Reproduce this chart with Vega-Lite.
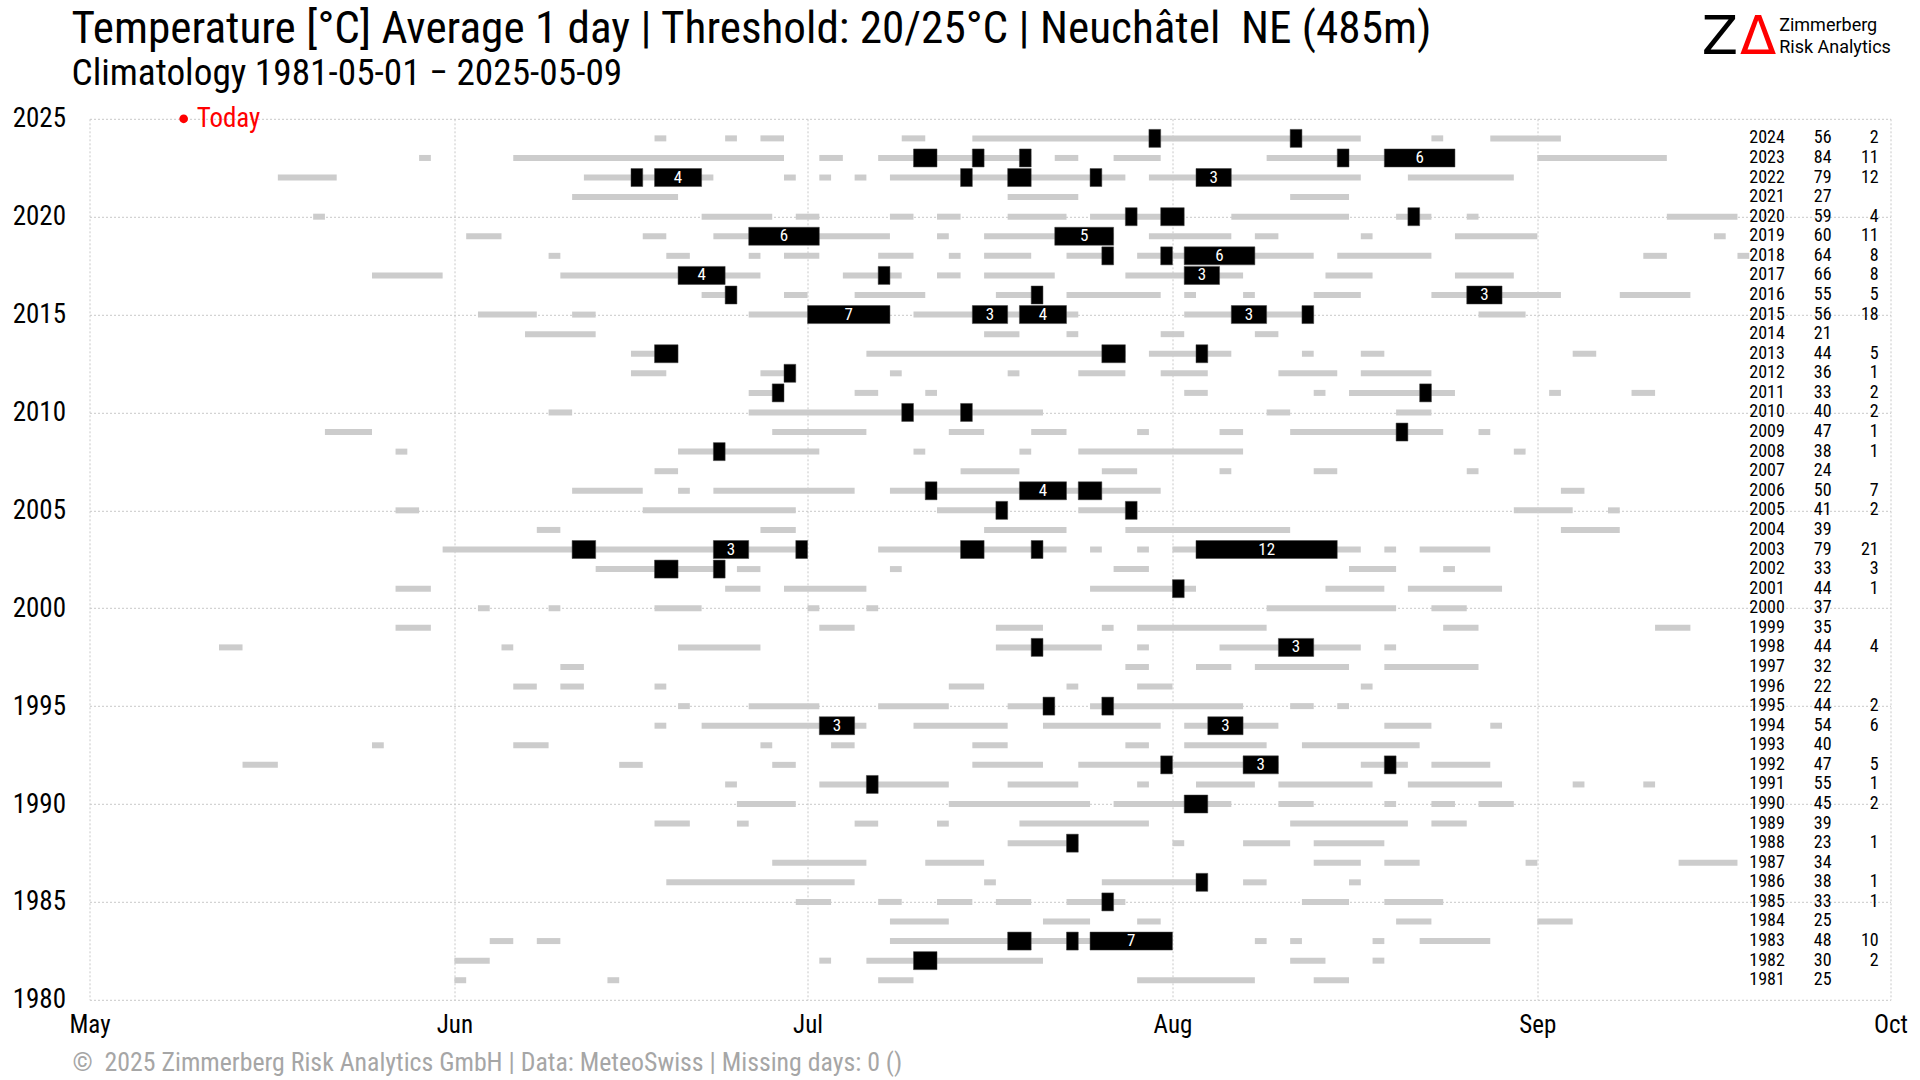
{
  "$schema": "https://vega.github.io/schema/vega-lite/v6.json",
  "width": 1801,
  "height": 881,
  "autosize": {"type": "none"},
  "padding": {"left": 89.5, "top": 118.8, "right": 29.5, "bottom": 80.2},
  "background": "white",
  "title": {
    "text": "Temperature [°C] Average 1 day | Threshold: 20/25°C | Neuchâtel\u00a0 NE (485m)",
    "subtitle": "Climatology 1981-05-01 − 2025-05-09",
    "anchor": "start",
    "frame": "group",
    "dx": -18,
    "dy": 83,
    "fontSize": 45.2,
    "subtitleFontSize": 37.3,
    "fontWeight": "normal",
    "color": "#000000",
    "subtitleColor": "#000000",
    "offset": 3,
    "subtitlePadding": 3
  },
  "config": {
    "font": "Roboto Condensed, Liberation Sans Narrow, DejaVu Sans Condensed, Roboto, sans-serif",
    "view": {"stroke": null},
    "scale": {"continuousPadding": 0},
    "axis": {
      "domain": false,
      "ticks": false,
      "gridColor": "#c8c8c8",
      "gridDash": [2, 2],
      "gridWidth": 1,
      "labelColor": "#000000",
      "labelFontSize": 25,
      "labelFlush": false,
      "labelOverlap": false
    }
  },
  "datasets": {
    "gray": [
      {"year":2024,"start":"2024-06-18","end":"2024-06-19"},
      {"year":2024,"start":"2024-06-24","end":"2024-06-25"},
      {"year":2024,"start":"2024-06-27","end":"2024-06-29"},
      {"year":2024,"start":"2024-07-09","end":"2024-07-11"},
      {"year":2024,"start":"2024-07-15","end":"2024-08-17"},
      {"year":2024,"start":"2024-08-23","end":"2024-08-24"},
      {"year":2024,"start":"2024-08-28","end":"2024-09-03"},
      {"year":2023,"start":"2023-05-29","end":"2023-05-30"},
      {"year":2023,"start":"2023-06-06","end":"2023-06-29"},
      {"year":2023,"start":"2023-07-02","end":"2023-07-04"},
      {"year":2023,"start":"2023-07-07","end":"2023-07-20"},
      {"year":2023,"start":"2023-07-22","end":"2023-07-24"},
      {"year":2023,"start":"2023-07-27","end":"2023-07-31"},
      {"year":2023,"start":"2023-08-09","end":"2023-08-25"},
      {"year":2023,"start":"2023-09-01","end":"2023-09-12"},
      {"year":2022,"start":"2022-05-17","end":"2022-05-22"},
      {"year":2022,"start":"2022-06-12","end":"2022-06-23"},
      {"year":2022,"start":"2022-06-29","end":"2022-06-30"},
      {"year":2022,"start":"2022-07-02","end":"2022-07-03"},
      {"year":2022,"start":"2022-07-05","end":"2022-07-06"},
      {"year":2022,"start":"2022-07-08","end":"2022-07-28"},
      {"year":2022,"start":"2022-07-30","end":"2022-08-17"},
      {"year":2022,"start":"2022-08-21","end":"2022-08-30"},
      {"year":2021,"start":"2021-06-11","end":"2021-06-20"},
      {"year":2021,"start":"2021-07-18","end":"2021-07-24"},
      {"year":2021,"start":"2021-08-11","end":"2021-08-16"},
      {"year":2020,"start":"2020-05-20","end":"2020-05-21"},
      {"year":2020,"start":"2020-06-22","end":"2020-06-28"},
      {"year":2020,"start":"2020-06-30","end":"2020-07-02"},
      {"year":2020,"start":"2020-07-08","end":"2020-07-10"},
      {"year":2020,"start":"2020-07-12","end":"2020-07-14"},
      {"year":2020,"start":"2020-07-18","end":"2020-07-23"},
      {"year":2020,"start":"2020-07-25","end":"2020-08-02"},
      {"year":2020,"start":"2020-08-06","end":"2020-08-16"},
      {"year":2020,"start":"2020-08-20","end":"2020-08-23"},
      {"year":2020,"start":"2020-08-26","end":"2020-08-27"},
      {"year":2020,"start":"2020-09-12","end":"2020-09-18"},
      {"year":2019,"start":"2019-06-02","end":"2019-06-05"},
      {"year":2019,"start":"2019-06-17","end":"2019-06-19"},
      {"year":2019,"start":"2019-06-23","end":"2019-07-08"},
      {"year":2019,"start":"2019-07-12","end":"2019-07-13"},
      {"year":2019,"start":"2019-07-16","end":"2019-07-27"},
      {"year":2019,"start":"2019-07-30","end":"2019-08-06"},
      {"year":2019,"start":"2019-08-08","end":"2019-08-10"},
      {"year":2019,"start":"2019-08-17","end":"2019-08-18"},
      {"year":2019,"start":"2019-08-25","end":"2019-09-01"},
      {"year":2019,"start":"2019-09-16","end":"2019-09-17"},
      {"year":2018,"start":"2018-06-09","end":"2018-06-10"},
      {"year":2018,"start":"2018-06-19","end":"2018-06-21"},
      {"year":2018,"start":"2018-06-26","end":"2018-06-27"},
      {"year":2018,"start":"2018-06-29","end":"2018-07-02"},
      {"year":2018,"start":"2018-07-07","end":"2018-07-10"},
      {"year":2018,"start":"2018-07-13","end":"2018-07-14"},
      {"year":2018,"start":"2018-07-16","end":"2018-07-20"},
      {"year":2018,"start":"2018-07-23","end":"2018-07-27"},
      {"year":2018,"start":"2018-07-29","end":"2018-08-13"},
      {"year":2018,"start":"2018-08-15","end":"2018-08-23"},
      {"year":2018,"start":"2018-09-10","end":"2018-09-12"},
      {"year":2018,"start":"2018-09-18","end":"2018-09-19"},
      {"year":2017,"start":"2017-05-25","end":"2017-05-31"},
      {"year":2017,"start":"2017-06-10","end":"2017-06-27"},
      {"year":2017,"start":"2017-07-04","end":"2017-07-09"},
      {"year":2017,"start":"2017-07-12","end":"2017-07-14"},
      {"year":2017,"start":"2017-07-16","end":"2017-07-22"},
      {"year":2017,"start":"2017-07-28","end":"2017-08-07"},
      {"year":2017,"start":"2017-08-14","end":"2017-08-18"},
      {"year":2017,"start":"2017-08-25","end":"2017-08-30"},
      {"year":2016,"start":"2016-06-22","end":"2016-06-25"},
      {"year":2016,"start":"2016-06-29","end":"2016-07-01"},
      {"year":2016,"start":"2016-07-05","end":"2016-07-11"},
      {"year":2016,"start":"2016-07-17","end":"2016-07-21"},
      {"year":2016,"start":"2016-07-23","end":"2016-07-31"},
      {"year":2016,"start":"2016-08-02","end":"2016-08-03"},
      {"year":2016,"start":"2016-08-07","end":"2016-08-08"},
      {"year":2016,"start":"2016-08-13","end":"2016-08-17"},
      {"year":2016,"start":"2016-08-23","end":"2016-09-03"},
      {"year":2016,"start":"2016-09-08","end":"2016-09-14"},
      {"year":2015,"start":"2015-06-03","end":"2015-06-08"},
      {"year":2015,"start":"2015-06-11","end":"2015-06-13"},
      {"year":2015,"start":"2015-06-26","end":"2015-07-08"},
      {"year":2015,"start":"2015-07-10","end":"2015-07-24"},
      {"year":2015,"start":"2015-08-02","end":"2015-08-13"},
      {"year":2015,"start":"2015-08-27","end":"2015-08-31"},
      {"year":2014,"start":"2014-06-07","end":"2014-06-13"},
      {"year":2014,"start":"2014-07-16","end":"2014-07-19"},
      {"year":2014,"start":"2014-07-23","end":"2014-07-24"},
      {"year":2014,"start":"2014-07-31","end":"2014-08-02"},
      {"year":2014,"start":"2014-08-08","end":"2014-08-10"},
      {"year":2013,"start":"2013-06-16","end":"2013-06-20"},
      {"year":2013,"start":"2013-07-06","end":"2013-07-28"},
      {"year":2013,"start":"2013-07-30","end":"2013-08-06"},
      {"year":2013,"start":"2013-08-12","end":"2013-08-13"},
      {"year":2013,"start":"2013-08-17","end":"2013-08-19"},
      {"year":2013,"start":"2013-09-04","end":"2013-09-06"},
      {"year":2012,"start":"2012-06-16","end":"2012-06-19"},
      {"year":2012,"start":"2012-06-27","end":"2012-06-30"},
      {"year":2012,"start":"2012-07-08","end":"2012-07-09"},
      {"year":2012,"start":"2012-07-18","end":"2012-07-19"},
      {"year":2012,"start":"2012-07-24","end":"2012-07-28"},
      {"year":2012,"start":"2012-07-31","end":"2012-08-04"},
      {"year":2012,"start":"2012-08-10","end":"2012-08-15"},
      {"year":2012,"start":"2012-08-17","end":"2012-08-23"},
      {"year":2011,"start":"2011-06-26","end":"2011-06-29"},
      {"year":2011,"start":"2011-07-05","end":"2011-07-07"},
      {"year":2011,"start":"2011-07-11","end":"2011-07-12"},
      {"year":2011,"start":"2011-08-02","end":"2011-08-04"},
      {"year":2011,"start":"2011-08-13","end":"2011-08-14"},
      {"year":2011,"start":"2011-08-16","end":"2011-08-25"},
      {"year":2011,"start":"2011-09-02","end":"2011-09-03"},
      {"year":2011,"start":"2011-09-09","end":"2011-09-11"},
      {"year":2010,"start":"2010-06-09","end":"2010-06-11"},
      {"year":2010,"start":"2010-06-26","end":"2010-07-21"},
      {"year":2010,"start":"2010-08-09","end":"2010-08-11"},
      {"year":2010,"start":"2010-08-20","end":"2010-08-23"},
      {"year":2009,"start":"2009-05-21","end":"2009-05-25"},
      {"year":2009,"start":"2009-06-28","end":"2009-07-06"},
      {"year":2009,"start":"2009-07-13","end":"2009-07-16"},
      {"year":2009,"start":"2009-07-20","end":"2009-07-23"},
      {"year":2009,"start":"2009-07-29","end":"2009-07-30"},
      {"year":2009,"start":"2009-08-05","end":"2009-08-07"},
      {"year":2009,"start":"2009-08-11","end":"2009-08-24"},
      {"year":2009,"start":"2009-08-27","end":"2009-08-28"},
      {"year":2008,"start":"2008-05-27","end":"2008-05-28"},
      {"year":2008,"start":"2008-06-20","end":"2008-07-02"},
      {"year":2008,"start":"2008-07-10","end":"2008-07-11"},
      {"year":2008,"start":"2008-07-19","end":"2008-07-20"},
      {"year":2008,"start":"2008-07-24","end":"2008-08-07"},
      {"year":2008,"start":"2008-08-30","end":"2008-08-31"},
      {"year":2007,"start":"2007-06-18","end":"2007-06-20"},
      {"year":2007,"start":"2007-07-14","end":"2007-07-19"},
      {"year":2007,"start":"2007-07-26","end":"2007-07-29"},
      {"year":2007,"start":"2007-08-05","end":"2007-08-06"},
      {"year":2007,"start":"2007-08-13","end":"2007-08-15"},
      {"year":2007,"start":"2007-08-26","end":"2007-08-27"},
      {"year":2006,"start":"2006-06-11","end":"2006-06-17"},
      {"year":2006,"start":"2006-06-20","end":"2006-06-21"},
      {"year":2006,"start":"2006-06-23","end":"2006-07-05"},
      {"year":2006,"start":"2006-07-08","end":"2006-07-31"},
      {"year":2006,"start":"2006-09-03","end":"2006-09-05"},
      {"year":2005,"start":"2005-05-27","end":"2005-05-29"},
      {"year":2005,"start":"2005-06-17","end":"2005-06-30"},
      {"year":2005,"start":"2005-07-12","end":"2005-07-18"},
      {"year":2005,"start":"2005-07-24","end":"2005-07-29"},
      {"year":2005,"start":"2005-08-30","end":"2005-09-04"},
      {"year":2005,"start":"2005-09-07","end":"2005-09-08"},
      {"year":2004,"start":"2004-06-08","end":"2004-06-10"},
      {"year":2004,"start":"2004-06-27","end":"2004-06-30"},
      {"year":2004,"start":"2004-07-16","end":"2004-07-23"},
      {"year":2004,"start":"2004-07-28","end":"2004-08-11"},
      {"year":2004,"start":"2004-09-03","end":"2004-09-08"},
      {"year":2003,"start":"2003-05-31","end":"2003-07-01"},
      {"year":2003,"start":"2003-07-07","end":"2003-07-23"},
      {"year":2003,"start":"2003-07-25","end":"2003-07-26"},
      {"year":2003,"start":"2003-07-29","end":"2003-07-30"},
      {"year":2003,"start":"2003-08-01","end":"2003-08-17"},
      {"year":2003,"start":"2003-08-19","end":"2003-08-20"},
      {"year":2003,"start":"2003-08-22","end":"2003-08-28"},
      {"year":2002,"start":"2002-06-13","end":"2002-06-24"},
      {"year":2002,"start":"2002-06-25","end":"2002-06-27"},
      {"year":2002,"start":"2002-07-08","end":"2002-07-09"},
      {"year":2002,"start":"2002-07-27","end":"2002-07-30"},
      {"year":2002,"start":"2002-08-16","end":"2002-08-20"},
      {"year":2002,"start":"2002-08-24","end":"2002-08-25"},
      {"year":2001,"start":"2001-05-27","end":"2001-05-30"},
      {"year":2001,"start":"2001-06-24","end":"2001-06-27"},
      {"year":2001,"start":"2001-06-29","end":"2001-07-06"},
      {"year":2001,"start":"2001-07-25","end":"2001-08-03"},
      {"year":2001,"start":"2001-08-14","end":"2001-08-19"},
      {"year":2001,"start":"2001-08-21","end":"2001-08-29"},
      {"year":2000,"start":"2000-06-03","end":"2000-06-04"},
      {"year":2000,"start":"2000-06-09","end":"2000-06-10"},
      {"year":2000,"start":"2000-06-18","end":"2000-06-22"},
      {"year":2000,"start":"2000-07-01","end":"2000-07-02"},
      {"year":2000,"start":"2000-07-06","end":"2000-07-07"},
      {"year":2000,"start":"2000-08-09","end":"2000-08-20"},
      {"year":2000,"start":"2000-08-23","end":"2000-08-26"},
      {"year":1999,"start":"1999-05-27","end":"1999-05-30"},
      {"year":1999,"start":"1999-07-02","end":"1999-07-05"},
      {"year":1999,"start":"1999-07-17","end":"1999-07-21"},
      {"year":1999,"start":"1999-07-26","end":"1999-07-27"},
      {"year":1999,"start":"1999-07-29","end":"1999-08-09"},
      {"year":1999,"start":"1999-08-24","end":"1999-08-27"},
      {"year":1999,"start":"1999-09-11","end":"1999-09-14"},
      {"year":1998,"start":"1998-05-12","end":"1998-05-14"},
      {"year":1998,"start":"1998-06-05","end":"1998-06-06"},
      {"year":1998,"start":"1998-06-20","end":"1998-06-27"},
      {"year":1998,"start":"1998-07-17","end":"1998-07-26"},
      {"year":1998,"start":"1998-07-29","end":"1998-07-30"},
      {"year":1998,"start":"1998-08-05","end":"1998-08-17"},
      {"year":1998,"start":"1998-08-19","end":"1998-08-20"},
      {"year":1997,"start":"1997-06-10","end":"1997-06-12"},
      {"year":1997,"start":"1997-07-28","end":"1997-07-30"},
      {"year":1997,"start":"1997-08-03","end":"1997-08-06"},
      {"year":1997,"start":"1997-08-08","end":"1997-08-16"},
      {"year":1997,"start":"1997-08-19","end":"1997-08-27"},
      {"year":1996,"start":"1996-06-06","end":"1996-06-08"},
      {"year":1996,"start":"1996-06-10","end":"1996-06-12"},
      {"year":1996,"start":"1996-06-18","end":"1996-06-19"},
      {"year":1996,"start":"1996-07-13","end":"1996-07-16"},
      {"year":1996,"start":"1996-07-23","end":"1996-07-24"},
      {"year":1996,"start":"1996-07-29","end":"1996-08-01"},
      {"year":1996,"start":"1996-08-17","end":"1996-08-18"},
      {"year":1995,"start":"1995-06-20","end":"1995-06-21"},
      {"year":1995,"start":"1995-06-26","end":"1995-07-02"},
      {"year":1995,"start":"1995-07-07","end":"1995-07-13"},
      {"year":1995,"start":"1995-07-18","end":"1995-07-22"},
      {"year":1995,"start":"1995-07-25","end":"1995-08-07"},
      {"year":1995,"start":"1995-08-11","end":"1995-08-13"},
      {"year":1995,"start":"1995-08-15","end":"1995-08-16"},
      {"year":1994,"start":"1994-06-18","end":"1994-06-19"},
      {"year":1994,"start":"1994-06-22","end":"1994-07-06"},
      {"year":1994,"start":"1994-07-10","end":"1994-07-18"},
      {"year":1994,"start":"1994-07-21","end":"1994-07-31"},
      {"year":1994,"start":"1994-08-02","end":"1994-08-10"},
      {"year":1994,"start":"1994-08-19","end":"1994-08-23"},
      {"year":1994,"start":"1994-08-28","end":"1994-08-29"},
      {"year":1993,"start":"1993-05-25","end":"1993-05-26"},
      {"year":1993,"start":"1993-06-06","end":"1993-06-09"},
      {"year":1993,"start":"1993-06-27","end":"1993-06-28"},
      {"year":1993,"start":"1993-07-03","end":"1993-07-05"},
      {"year":1993,"start":"1993-07-15","end":"1993-07-18"},
      {"year":1993,"start":"1993-07-28","end":"1993-07-30"},
      {"year":1993,"start":"1993-08-02","end":"1993-08-09"},
      {"year":1993,"start":"1993-08-12","end":"1993-08-22"},
      {"year":1992,"start":"1992-05-14","end":"1992-05-17"},
      {"year":1992,"start":"1992-06-15","end":"1992-06-17"},
      {"year":1992,"start":"1992-06-28","end":"1992-06-30"},
      {"year":1992,"start":"1992-07-15","end":"1992-07-21"},
      {"year":1992,"start":"1992-07-24","end":"1992-08-10"},
      {"year":1992,"start":"1992-08-17","end":"1992-08-21"},
      {"year":1992,"start":"1992-08-23","end":"1992-08-28"},
      {"year":1991,"start":"1991-06-24","end":"1991-06-25"},
      {"year":1991,"start":"1991-07-02","end":"1991-07-13"},
      {"year":1991,"start":"1991-07-18","end":"1991-07-24"},
      {"year":1991,"start":"1991-07-29","end":"1991-07-30"},
      {"year":1991,"start":"1991-08-03","end":"1991-08-08"},
      {"year":1991,"start":"1991-08-10","end":"1991-08-18"},
      {"year":1991,"start":"1991-08-21","end":"1991-08-29"},
      {"year":1991,"start":"1991-09-04","end":"1991-09-05"},
      {"year":1991,"start":"1991-09-10","end":"1991-09-11"},
      {"year":1990,"start":"1990-06-25","end":"1990-06-30"},
      {"year":1990,"start":"1990-07-13","end":"1990-07-25"},
      {"year":1990,"start":"1990-07-27","end":"1990-08-06"},
      {"year":1990,"start":"1990-08-10","end":"1990-08-13"},
      {"year":1990,"start":"1990-08-19","end":"1990-08-20"},
      {"year":1990,"start":"1990-08-23","end":"1990-08-25"},
      {"year":1990,"start":"1990-08-27","end":"1990-08-30"},
      {"year":1989,"start":"1989-06-18","end":"1989-06-21"},
      {"year":1989,"start":"1989-06-25","end":"1989-06-26"},
      {"year":1989,"start":"1989-07-05","end":"1989-07-07"},
      {"year":1989,"start":"1989-07-12","end":"1989-07-13"},
      {"year":1989,"start":"1989-07-19","end":"1989-07-30"},
      {"year":1989,"start":"1989-08-11","end":"1989-08-21"},
      {"year":1989,"start":"1989-08-23","end":"1989-08-26"},
      {"year":1988,"start":"1988-07-18","end":"1988-07-24"},
      {"year":1988,"start":"1988-08-01","end":"1988-08-02"},
      {"year":1988,"start":"1988-08-07","end":"1988-08-11"},
      {"year":1988,"start":"1988-08-13","end":"1988-08-19"},
      {"year":1987,"start":"1987-06-28","end":"1987-07-06"},
      {"year":1987,"start":"1987-07-11","end":"1987-07-16"},
      {"year":1987,"start":"1987-08-13","end":"1987-08-17"},
      {"year":1987,"start":"1987-08-19","end":"1987-08-22"},
      {"year":1987,"start":"1987-08-31","end":"1987-09-01"},
      {"year":1987,"start":"1987-09-13","end":"1987-09-18"},
      {"year":1986,"start":"1986-06-19","end":"1986-07-05"},
      {"year":1986,"start":"1986-07-16","end":"1986-07-17"},
      {"year":1986,"start":"1986-07-26","end":"1986-08-04"},
      {"year":1986,"start":"1986-08-07","end":"1986-08-09"},
      {"year":1986,"start":"1986-08-16","end":"1986-08-17"},
      {"year":1985,"start":"1985-06-30","end":"1985-07-03"},
      {"year":1985,"start":"1985-07-07","end":"1985-07-09"},
      {"year":1985,"start":"1985-07-12","end":"1985-07-15"},
      {"year":1985,"start":"1985-07-17","end":"1985-07-20"},
      {"year":1985,"start":"1985-07-23","end":"1985-07-28"},
      {"year":1985,"start":"1985-08-12","end":"1985-08-16"},
      {"year":1985,"start":"1985-08-19","end":"1985-08-24"},
      {"year":1984,"start":"1984-07-08","end":"1984-07-13"},
      {"year":1984,"start":"1984-07-21","end":"1984-07-25"},
      {"year":1984,"start":"1984-07-29","end":"1984-07-31"},
      {"year":1984,"start":"1984-08-20","end":"1984-08-23"},
      {"year":1984,"start":"1984-09-01","end":"1984-09-04"},
      {"year":1983,"start":"1983-06-04","end":"1983-06-06"},
      {"year":1983,"start":"1983-06-08","end":"1983-06-10"},
      {"year":1983,"start":"1983-07-08","end":"1983-08-01"},
      {"year":1983,"start":"1983-08-08","end":"1983-08-09"},
      {"year":1983,"start":"1983-08-11","end":"1983-08-12"},
      {"year":1983,"start":"1983-08-18","end":"1983-08-19"},
      {"year":1983,"start":"1983-08-22","end":"1983-08-28"},
      {"year":1982,"start":"1982-06-01","end":"1982-06-04"},
      {"year":1982,"start":"1982-07-02","end":"1982-07-03"},
      {"year":1982,"start":"1982-07-06","end":"1982-07-21"},
      {"year":1982,"start":"1982-08-11","end":"1982-08-14"},
      {"year":1982,"start":"1982-08-18","end":"1982-08-19"},
      {"year":1981,"start":"1981-06-01","end":"1981-06-02"},
      {"year":1981,"start":"1981-06-14","end":"1981-06-15"},
      {"year":1981,"start":"1981-07-07","end":"1981-07-10"},
      {"year":1981,"start":"1981-07-29","end":"1981-08-08"},
      {"year":1981,"start":"1981-08-13","end":"1981-08-16"}
    ],
    "black": [
      {"year":2024,"start":"2024-07-30","end":"2024-07-31","days":1},
      {"year":2024,"start":"2024-08-11","end":"2024-08-12","days":1},
      {"year":2023,"start":"2023-07-10","end":"2023-07-12","days":2},
      {"year":2023,"start":"2023-07-15","end":"2023-07-16","days":1},
      {"year":2023,"start":"2023-07-19","end":"2023-07-20","days":1},
      {"year":2023,"start":"2023-08-15","end":"2023-08-16","days":1},
      {"year":2023,"start":"2023-08-19","end":"2023-08-25","days":6},
      {"year":2022,"start":"2022-06-16","end":"2022-06-17","days":1},
      {"year":2022,"start":"2022-06-18","end":"2022-06-22","days":4},
      {"year":2022,"start":"2022-07-14","end":"2022-07-15","days":1},
      {"year":2022,"start":"2022-07-18","end":"2022-07-20","days":2},
      {"year":2022,"start":"2022-07-25","end":"2022-07-26","days":1},
      {"year":2022,"start":"2022-08-03","end":"2022-08-06","days":3},
      {"year":2020,"start":"2020-07-28","end":"2020-07-29","days":1},
      {"year":2020,"start":"2020-07-31","end":"2020-08-02","days":2},
      {"year":2020,"start":"2020-08-21","end":"2020-08-22","days":1},
      {"year":2019,"start":"2019-06-26","end":"2019-07-02","days":6},
      {"year":2019,"start":"2019-07-22","end":"2019-07-27","days":5},
      {"year":2018,"start":"2018-07-26","end":"2018-07-27","days":1},
      {"year":2018,"start":"2018-07-31","end":"2018-08-01","days":1},
      {"year":2018,"start":"2018-08-02","end":"2018-08-08","days":6},
      {"year":2017,"start":"2017-06-20","end":"2017-06-24","days":4},
      {"year":2017,"start":"2017-07-07","end":"2017-07-08","days":1},
      {"year":2017,"start":"2017-08-02","end":"2017-08-05","days":3},
      {"year":2016,"start":"2016-06-24","end":"2016-06-25","days":1},
      {"year":2016,"start":"2016-07-20","end":"2016-07-21","days":1},
      {"year":2016,"start":"2016-08-26","end":"2016-08-29","days":3},
      {"year":2015,"start":"2015-07-01","end":"2015-07-08","days":7},
      {"year":2015,"start":"2015-07-15","end":"2015-07-18","days":3},
      {"year":2015,"start":"2015-07-19","end":"2015-07-23","days":4},
      {"year":2015,"start":"2015-08-06","end":"2015-08-09","days":3},
      {"year":2015,"start":"2015-08-12","end":"2015-08-13","days":1},
      {"year":2013,"start":"2013-06-18","end":"2013-06-20","days":2},
      {"year":2013,"start":"2013-07-26","end":"2013-07-28","days":2},
      {"year":2013,"start":"2013-08-03","end":"2013-08-04","days":1},
      {"year":2012,"start":"2012-06-29","end":"2012-06-30","days":1},
      {"year":2011,"start":"2011-06-28","end":"2011-06-29","days":1},
      {"year":2011,"start":"2011-08-22","end":"2011-08-23","days":1},
      {"year":2010,"start":"2010-07-09","end":"2010-07-10","days":1},
      {"year":2010,"start":"2010-07-14","end":"2010-07-15","days":1},
      {"year":2009,"start":"2009-08-20","end":"2009-08-21","days":1},
      {"year":2008,"start":"2008-06-23","end":"2008-06-24","days":1},
      {"year":2006,"start":"2006-07-11","end":"2006-07-12","days":1},
      {"year":2006,"start":"2006-07-19","end":"2006-07-23","days":4},
      {"year":2006,"start":"2006-07-24","end":"2006-07-26","days":2},
      {"year":2005,"start":"2005-07-17","end":"2005-07-18","days":1},
      {"year":2005,"start":"2005-07-28","end":"2005-07-29","days":1},
      {"year":2003,"start":"2003-06-11","end":"2003-06-13","days":2},
      {"year":2003,"start":"2003-06-23","end":"2003-06-26","days":3},
      {"year":2003,"start":"2003-06-30","end":"2003-07-01","days":1},
      {"year":2003,"start":"2003-07-14","end":"2003-07-16","days":2},
      {"year":2003,"start":"2003-07-20","end":"2003-07-21","days":1},
      {"year":2003,"start":"2003-08-03","end":"2003-08-15","days":12},
      {"year":2002,"start":"2002-06-18","end":"2002-06-20","days":2},
      {"year":2002,"start":"2002-06-23","end":"2002-06-24","days":1},
      {"year":2001,"start":"2001-08-01","end":"2001-08-02","days":1},
      {"year":1998,"start":"1998-07-20","end":"1998-07-21","days":1},
      {"year":1998,"start":"1998-08-10","end":"1998-08-13","days":3},
      {"year":1995,"start":"1995-07-21","end":"1995-07-22","days":1},
      {"year":1995,"start":"1995-07-26","end":"1995-07-27","days":1},
      {"year":1994,"start":"1994-07-02","end":"1994-07-05","days":3},
      {"year":1994,"start":"1994-08-04","end":"1994-08-07","days":3},
      {"year":1992,"start":"1992-07-31","end":"1992-08-01","days":1},
      {"year":1992,"start":"1992-08-07","end":"1992-08-10","days":3},
      {"year":1992,"start":"1992-08-19","end":"1992-08-20","days":1},
      {"year":1991,"start":"1991-07-06","end":"1991-07-07","days":1},
      {"year":1990,"start":"1990-08-02","end":"1990-08-04","days":2},
      {"year":1988,"start":"1988-07-23","end":"1988-07-24","days":1},
      {"year":1986,"start":"1986-08-03","end":"1986-08-04","days":1},
      {"year":1985,"start":"1985-07-26","end":"1985-07-27","days":1},
      {"year":1983,"start":"1983-07-18","end":"1983-07-20","days":2},
      {"year":1983,"start":"1983-07-23","end":"1983-07-24","days":1},
      {"year":1983,"start":"1983-07-25","end":"1983-08-01","days":7},
      {"year":1982,"start":"1982-07-10","end":"1982-07-12","days":2}
    ],
    "counts": [
      {"year":2024,"n20":56,"n25":2},{"year":2023,"n20":84,"n25":11},{"year":2022,"n20":79,"n25":12},
      {"year":2021,"n20":27,"n25":null},{"year":2020,"n20":59,"n25":4},{"year":2019,"n20":60,"n25":11},
      {"year":2018,"n20":64,"n25":8},{"year":2017,"n20":66,"n25":8},{"year":2016,"n20":55,"n25":5},
      {"year":2015,"n20":56,"n25":18},{"year":2014,"n20":21,"n25":null},{"year":2013,"n20":44,"n25":5},
      {"year":2012,"n20":36,"n25":1},{"year":2011,"n20":33,"n25":2},{"year":2010,"n20":40,"n25":2},
      {"year":2009,"n20":47,"n25":1},{"year":2008,"n20":38,"n25":1},{"year":2007,"n20":24,"n25":null},
      {"year":2006,"n20":50,"n25":7},{"year":2005,"n20":41,"n25":2},{"year":2004,"n20":39,"n25":null},
      {"year":2003,"n20":79,"n25":21},{"year":2002,"n20":33,"n25":3},{"year":2001,"n20":44,"n25":1},
      {"year":2000,"n20":37,"n25":null},{"year":1999,"n20":35,"n25":null},{"year":1998,"n20":44,"n25":4},
      {"year":1997,"n20":32,"n25":null},{"year":1996,"n20":22,"n25":null},{"year":1995,"n20":44,"n25":2},
      {"year":1994,"n20":54,"n25":6},{"year":1993,"n20":40,"n25":null},{"year":1992,"n20":47,"n25":5},
      {"year":1991,"n20":55,"n25":1},{"year":1990,"n20":45,"n25":2},{"year":1989,"n20":39,"n25":null},
      {"year":1988,"n20":23,"n25":1},{"year":1987,"n20":34,"n25":null},{"year":1986,"n20":38,"n25":1},
      {"year":1985,"n20":33,"n25":1},{"year":1984,"n20":25,"n25":null},{"year":1983,"n20":48,"n25":10},
      {"year":1982,"n20":30,"n25":2},{"year":1981,"n20":25,"n25":null}
    ],
    "today": [{"date": "2025-05-09", "year": 2025, "label": "Today"}],
    "logo": [{"mark": "Z", "delta": "Δ", "line1": "Zimmerberg", "line2": "Risk Analytics"}]
  },
  "layer": [
    {
      "data": {"name": "gray"},
      "mark": {"type": "bar", "orient": "horizontal", "size": 6, "color": "#cccccc"},
      "encoding": {
        "x": {
          "field": "start", "type": "temporal", "timeUnit": "utcmonthdate",
          "scale": {"type": "utc", "domain": [{"month": 5, "date": 1, "utc": true}, {"month": 10, "date": 1, "utc": true}]},
          "axis": {
            "values": [{"month": 5, "date": 1, "utc": true}, {"month": 6, "date": 1, "utc": true}, {"month": 7, "date": 1, "utc": true}, {"month": 8, "date": 1, "utc": true}, {"month": 9, "date": 1, "utc": true}, {"month": 10, "date": 1, "utc": true}],
            "labelExpr": "utcFormat(datum.value, '%b')",
            "grid": true,
            "labelPadding": 13,
            "title": "©\u00a0 2025 Zimmerberg Risk Analytics GmbH | Data: MeteoSwiss | Missing days: 0 ()",
            "titleAnchor": "start",
            "titleAlign": "left",
            "titleX": -17.5,
            "titleY": 71,
            "titleBaseline": "alphabetic",
            "titleFontSize": 25.8,
            "titleFontWeight": "normal",
            "titleColor": "#a6a6a6"
          }
        },
        "x2": {"field": "end", "timeUnit": "utcmonthdate"},
        "y": {
          "field": "year", "type": "quantitative",
          "scale": {"domain": [1980, 2025], "nice": false, "zero": false, "padding": 0},
          "axis": {"values": [1980, 1985, 1990, 1995, 2000, 2005, 2010, 2015, 2020, 2025], "format": "d", "grid": true, "title": null, "labelPadding": 24, "labelFontSize": 27}
        }
      }
    },
    {
      "data": {"name": "black"},
      "mark": {"type": "bar", "orient": "horizontal", "size": 18, "color": "#000000", "stroke": "#444444", "strokeWidth": 0.5},
      "encoding": {
        "x": {"field": "start", "type": "temporal", "timeUnit": "utcmonthdate"},
        "x2": {"field": "end", "timeUnit": "utcmonthdate"},
        "y": {"field": "year", "type": "quantitative"}
      }
    },
    {
      "data": {"name": "black"},
      "transform": [
        {"filter": "datum.days >= 3"},
        {"calculate": "toDate((time(datum.start) + time(datum.end)) / 2)", "as": "mid"}
      ],
      "mark": {"type": "text", "color": "#ffffff", "fontSize": 17, "baseline": "middle", "align": "center"},
      "encoding": {
        "x": {"field": "mid", "type": "temporal", "timeUnit": "utcmonthdatehours"},
        "y": {"field": "year", "type": "quantitative"},
        "text": {"field": "days", "type": "nominal"}
      }
    },
    {
      "data": {"name": "today"},
      "mark": {"type": "point", "filled": true, "color": "#ff0000", "size": 75, "opacity": 1},
      "encoding": {
        "x": {"field": "date", "type": "temporal", "timeUnit": "utcmonthdate"},
        "y": {"field": "year", "type": "quantitative"}
      }
    },
    {
      "data": {"name": "today"},
      "mark": {"type": "text", "color": "#ff0000", "fontSize": 27, "align": "left", "baseline": "middle", "dx": 13},
      "encoding": {
        "x": {"field": "date", "type": "temporal", "timeUnit": "utcmonthdate"},
        "y": {"field": "year", "type": "quantitative"},
        "text": {"field": "label"}
      }
    },
    {
      "data": {"name": "counts"},
      "mark": {"type": "text", "color": "#000000", "fontSize": 18, "align": "left", "baseline": "middle"},
      "encoding": {
        "x": {"datum": {"month": 9, "date": 19, "utc": true}, "type": "temporal"},
        "y": {"field": "year", "type": "quantitative"},
        "text": {"field": "year", "type": "nominal"}
      }
    },
    {
      "data": {"name": "counts"},
      "mark": {"type": "text", "color": "#000000", "fontSize": 18, "align": "right", "baseline": "middle"},
      "encoding": {
        "x": {"datum": {"month": 9, "date": 26, "utc": true}, "type": "temporal"},
        "y": {"field": "year", "type": "quantitative"},
        "text": {"field": "n20", "type": "nominal"}
      }
    },
    {
      "data": {"name": "counts"},
      "transform": [{"filter": "datum.n25 != null"}],
      "mark": {"type": "text", "color": "#000000", "fontSize": 18, "align": "right", "baseline": "middle"},
      "encoding": {
        "x": {"datum": {"month": 9, "date": 30, "utc": true}, "type": "temporal"},
        "y": {"field": "year", "type": "quantitative"},
        "text": {"field": "n25", "type": "nominal"}
      }
    },
    {
      "data": {"name": "logo"},
      "mark": {"type": "text", "color": "#000000", "fontSize": 53, "align": "center", "baseline": "alphabetic", "font": "DejaVu Sans"},
      "encoding": {
        "x": {"datum": {"month": 9, "date": 16, "hours": 12, "utc": true}, "type": "temporal"},
        "y": {"datum": 2028.31, "type": "quantitative"},
        "text": {"field": "mark"}
      }
    },
    {
      "data": {"name": "logo"},
      "mark": {"type": "text", "color": "#ff0000", "fontSize": 53, "align": "center", "baseline": "alphabetic", "font": "DejaVu Sans"},
      "encoding": {
        "x": {"datum": {"month": 9, "date": 19, "hours": 18, "utc": true}, "type": "temporal"},
        "y": {"datum": 2028.31, "type": "quantitative"},
        "text": {"field": "delta"}
      }
    },
    {
      "data": {"name": "logo"},
      "mark": {"type": "text", "color": "#000000", "fontSize": 18, "align": "left", "baseline": "alphabetic", "font": "Roboto"},
      "encoding": {
        "x": {"datum": {"month": 9, "date": 21, "hours": 13, "utc": true}, "type": "temporal"},
        "y": {"datum": 2029.48, "type": "quantitative"},
        "text": {"field": "line1"}
      }
    },
    {
      "data": {"name": "logo"},
      "mark": {"type": "text", "color": "#000000", "fontSize": 18, "align": "left", "baseline": "alphabetic", "font": "Roboto"},
      "encoding": {
        "x": {"datum": {"month": 9, "date": 21, "hours": 13, "utc": true}, "type": "temporal"},
        "y": {"datum": 2028.36, "type": "quantitative"},
        "text": {"field": "line2"}
      }
    }
  ]
}
